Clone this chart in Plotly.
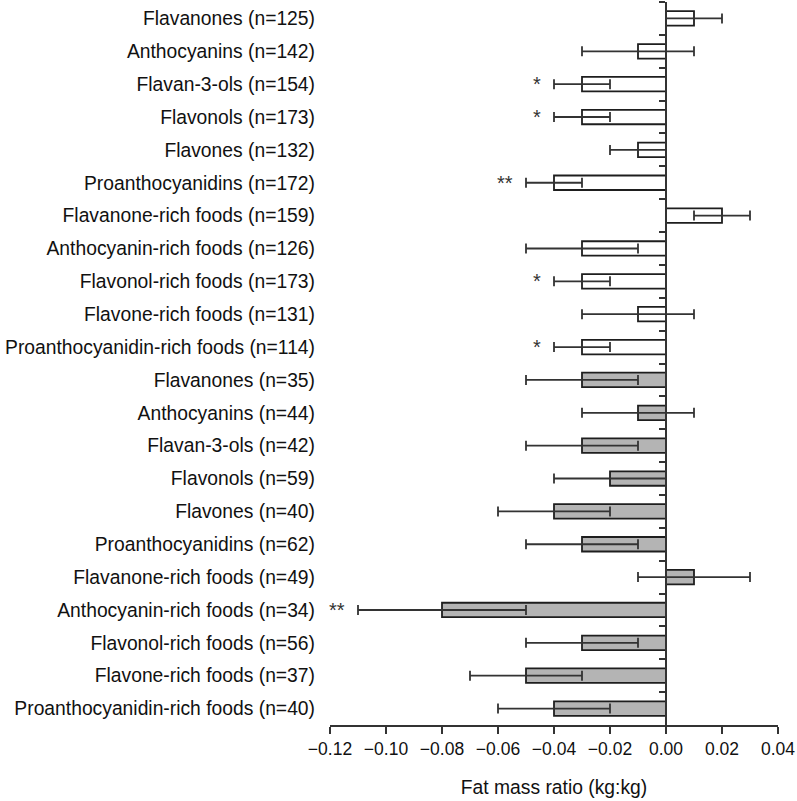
import plotly.graph_objects as go

# ---- data ----
labels = [
    "Flavanones (n=125)", "Anthocyanins (n=142)", "Flavan-3-ols (n=154)",
    "Flavonols (n=173)", "Flavones (n=132)", "Proanthocyanidins (n=172)",
    "Flavanone-rich foods (n=159)", "Anthocyanin-rich foods (n=126)",
    "Flavonol-rich foods (n=173)", "Flavone-rich foods (n=131)",
    "Proanthocyanidin-rich foods (n=114)",
    "Flavanones (n=35)", "Anthocyanins (n=44)", "Flavan-3-ols (n=42)",
    "Flavonols (n=59)", "Flavones (n=40)", "Proanthocyanidins (n=62)",
    "Flavanone-rich foods (n=49)", "Anthocyanin-rich foods (n=34)",
    "Flavonol-rich foods (n=56)", "Flavone-rich foods (n=37)",
    "Proanthocyanidin-rich foods (n=40)",
]
values = [0.01, -0.01, -0.03, -0.03, -0.01, -0.04, 0.02, -0.03, -0.03, -0.01, -0.03,
          -0.03, -0.01, -0.03, -0.02, -0.04, -0.03, 0.01, -0.08, -0.03, -0.05, -0.04]
errors = [0.01, 0.02, 0.01, 0.01, 0.01, 0.01, 0.01, 0.02, 0.01, 0.02, 0.01,
          0.02, 0.02, 0.02, 0.02, 0.02, 0.02, 0.02, 0.03, 0.02, 0.02, 0.02]
groups = ["white"] * 11 + ["grey"] * 11
significance = ["", "", "*", "*", "", "**", "", "", "*", "", "*",
                "", "", "", "", "", "", "", "**", "", "", ""]
x_tick_vals = [-0.12, -0.10, -0.08, -0.06, -0.04, -0.02, 0.00, 0.02, 0.04]
x_tick_text = ["\u22120.12", "\u22120.10", "\u22120.08", "\u22120.06", "\u22120.04",
               "\u22120.02", "0.00", "0.02", "0.04"]
x_title = "Fat mass ratio (kg:kg)"

# ---- style ----
FONT = "Arial, Liberation Sans, sans-serif"
FILLS = {"white": "#ffffff", "grey": "#b4b4b4"}
EDGE = "#1e1e1e"
AX = "#333333"
x_min, x_max = x_tick_vals[0], x_tick_vals[-1]
n = len(labels)
pos = list(range(n))

fig = go.Figure()
for g in ["white", "grey"]:
    idx = [i for i in pos if groups[i] == g]
    fig.add_trace(go.Bar(
        x=[values[i] for i in idx], y=[pos[i] for i in idx], orientation="h",
        width=0.44,
        marker=dict(color=FILLS[g], line=dict(color=EDGE, width=1.8)),
        error_x=dict(type="data", array=[errors[i] for i in idx], symmetric=True,
                     color=AX, thickness=1.8, width=5),
        showlegend=False, hoverinfo="skip",
    ))

# helper trace for the zero-positioned axis with boundary ticks
fig.add_trace(go.Scatter(x=[0], y=[0], yaxis="y2", mode="markers",
                         marker=dict(opacity=0), showlegend=False, hoverinfo="skip"))

for i in pos:
    if significance[i]:
        fig.add_annotation(x=values[i] - errors[i], y=pos[i], text=significance[i],
                           showarrow=False, xanchor="right", yanchor="middle",
                           xshift=-11, yshift=0,
                           font=dict(family=FONT, size=20, color=AX))

fig.update_layout(
    width=797, height=801,
    margin=dict(l=330, r=19, t=2, b=76),
    paper_bgcolor="white", plot_bgcolor="white",
    barmode="overlay",
    font=dict(family=FONT, size=19.3, color="#111111"),
    xaxis=dict(range=[x_min, x_max], tickmode="array", tickvals=x_tick_vals,
               ticktext=x_tick_text, showline=True, linecolor=AX, linewidth=1.8,
               ticks="outside", ticklen=7, tickwidth=1.8, tickcolor=AX,
               tickfont=dict(size=17.5), ticklabeloverflow="allow",
               showgrid=False, zeroline=False,
               title=dict(text=x_title, standoff=23, font=dict(size=19.3))),
    yaxis=dict(range=[n - 0.5, -0.5], tickmode="array", tickvals=pos, ticktext=labels,
               ticks="", showline=False, showgrid=False, zeroline=False,
               ticklabelstandoff=14),
    yaxis2=dict(range=[n - 0.5, -0.5], overlaying="y", anchor="free",
                position=(0 - x_min) / (x_max - x_min), side="left",
                tickmode="array", tickvals=[p - 0.5 for p in pos],
                showticklabels=False, ticks="outside", ticklen=6, tickwidth=1.8,
                tickcolor=AX, showline=True, linecolor=AX, linewidth=1.8,
                showgrid=False, zeroline=False),
)

fig.write_html("out.html", config={"displayModeBar": False},
               post_script="document.body.style.margin='0px';document.body.style.overflow='hidden';")
